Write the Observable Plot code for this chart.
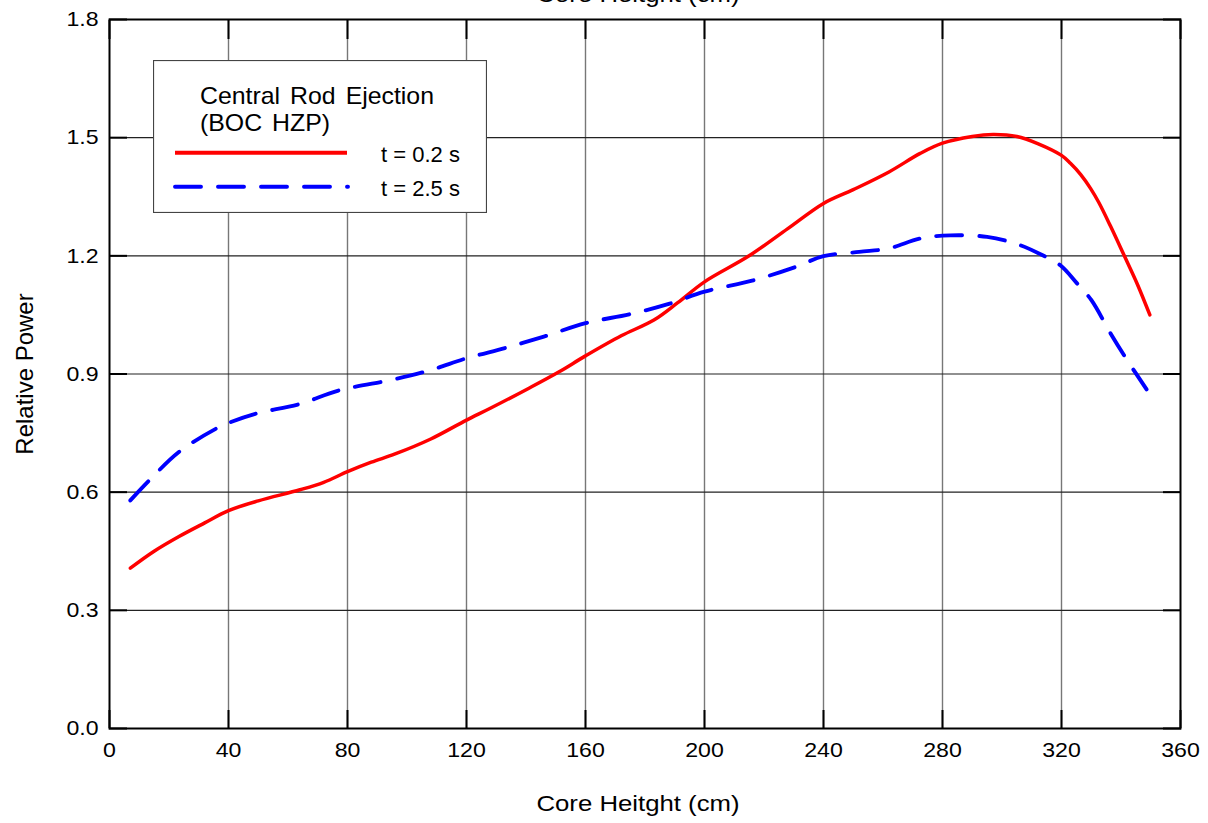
<!DOCTYPE html>
<html>
<head>
<meta charset="utf-8">
<script src="https://cdn.jsdelivr.net/npm/d3@7"></script>
<script src="https://cdn.jsdelivr.net/npm/@observablehq/plot@0.6"></script>
<style>
  html, body { margin: 0; padding: 0; background: #fff; }
  #wrap { position: relative; width: 1208px; height: 823px; overflow: hidden; font-family: "Liberation Sans", Arial, sans-serif; }
  #legend { position: absolute; left: 153px; top: 60px; }
</style>
</head>
<body>
<div id="wrap"><div id="chart"></div><div id="legend"></div></div>
<script>
// ---- data ----
const xTicks = [0, 40, 80, 120, 160, 200, 240, 280, 320, 360];
const yTicks = [0.0, 0.3, 0.6, 0.9, 1.2, 1.5, 1.8];
const xTitle = "Core Heitght (cm)";
const yTitle = "Relative Power";
const legendTitle = ["Central Rod Ejection", "(BOC HZP)"];
const seriesNames = ["t = 0.2 s", "t = 2.5 s"];

const heightT02 = [7, 15, 23.5, 32, 40, 50, 64, 72, 80, 88, 96, 108, 120, 128, 141, 151, 160, 172, 183, 191, 200, 215, 228, 240, 250, 262, 272.5, 280, 290, 297, 305, 312, 320, 323, 326.4, 329.7, 332.5, 336.5, 341, 345.5, 349.7];
const powerT02  = [0.407, 0.45, 0.488, 0.522, 0.553, 0.578, 0.606, 0.625, 0.652, 0.676, 0.697, 0.735, 0.783, 0.813, 0.864, 0.905, 0.946, 0.997, 1.037, 1.081, 1.134, 1.2, 1.269, 1.333, 1.368, 1.413, 1.46, 1.486, 1.503, 1.508, 1.503, 1.485, 1.455, 1.435, 1.407, 1.372, 1.336, 1.275, 1.202, 1.128, 1.05];

const heightT25 = [7, 13.5, 23.5, 36, 40.4, 49, 64, 77, 96, 108, 120, 133.5, 146, 160, 175, 188, 200, 216, 230, 240, 252, 262, 272.5, 282.6, 295, 305, 313.5, 319.6, 325, 330, 336.5, 342, 348.6];
const powerT25  = [0.579, 0.631, 0.703, 0.762, 0.777, 0.799, 0.824, 0.858, 0.887, 0.91, 0.94, 0.967, 0.995, 1.029, 1.052, 1.078, 1.109, 1.137, 1.17, 1.199, 1.21, 1.219, 1.244, 1.252, 1.248, 1.23, 1.202, 1.176, 1.132, 1.088, 1.003, 0.936, 0.861];

const colors = ["#ff0000", "#0000ff"];
const dashes = [null, "26,17"];

const t02 = heightT02.map((h, i) => ({h, p: powerT02[i]}));
const t25 = heightT25.map((h, i) => ({h, p: powerT25[i]}));

const font = "'Liberation Sans', Arial, sans-serif";

const chart = Plot.plot({
  width: 1208,
  height: 823,
  marginLeft: 109,
  marginRight: 28,
  marginTop: 19,
  marginBottom: 95,
  style: {fontFamily: font, fontSize: "21px", background: "white", color: "black", overflow: "visible"},
  x: {domain: [0, 360], ticks: xTicks, label: null},
  y: {domain: [0, 1.8], ticks: yTicks, label: null},
  marks: [
    Plot.gridX(xTicks.slice(1, -1), {stroke: "#777", strokeOpacity: 1, strokeWidth: 1.4}),
    Plot.gridY(yTicks.slice(1, -1), {stroke: "#222", strokeOpacity: 1, strokeWidth: 1.2}),
    Plot.axisX(xTicks, {anchor: "bottom", tickSize: -18, fill: "none", stroke: "black", strokeWidth: 2, label: null}),
    Plot.axisX(xTicks, {anchor: "top", tickSize: -19, fill: "none", stroke: "black", strokeWidth: 2, label: null}),
    Plot.axisY(yTicks, {anchor: "left", tickSize: -18, fill: "none", stroke: "black", strokeWidth: 2, label: null}),
    Plot.axisY(yTicks, {anchor: "right", tickSize: -18, fill: "none", stroke: "black", strokeWidth: 2, label: null}),
    Plot.axisX(xTicks, {anchor: "bottom", tickSize: 0, tickPadding: 14, label: null, fontSize: 21}),
    Plot.axisY(yTicks, {anchor: "left", tickSize: 0, tickPadding: 11, tickFormat: d3.format(".1f"), label: null, fontSize: 21}),
    Plot.line(t02, {x: "h", y: "p", stroke: colors[0], strokeWidth: 3.5, curve: "catmull-rom", strokeLinecap: "round"}),
    Plot.line(t25, {x: "h", y: "p", stroke: colors[1], strokeWidth: 3.9, curve: "catmull-rom", strokeDasharray: dashes[1], strokeLinecap: "round"}),
    Plot.frame({stroke: "black", strokeWidth: 2}),
    Plot.text([xTitle], {frameAnchor: "bottom", dy: 82, dx: -7, lineAnchor: "bottom", fontSize: 22}),
    Plot.text([xTitle], {frameAnchor: "top", dy: -18, dx: -7, lineAnchor: "bottom", fontSize: 22}),
    Plot.text([yTitle], {frameAnchor: "left", dx: -77, rotate: -90, textAnchor: "middle", lineAnchor: "bottom", fontSize: 24})
  ]
});
document.getElementById("chart").appendChild(chart);

// horizontal widening of the (unrotated) text to match the reference's glyph proportions
chart.querySelectorAll("text").forEach(t => {
  if (t.textContent === yTitle) return;
  const w = t.getComputedTextLength();
  if (w <= 0) return;
  const s = t.textContent === xTitle ? 1.17 : 1.1;
  t.setAttribute("textLength", (w * s).toFixed(1));
  t.setAttribute("lengthAdjust", "spacingAndGlyphs");
});

// ---- legend ----
const LW = 334, LH = 153;
const lg = d3.select("#legend").append("svg")
  .attr("width", LW).attr("height", LH)
  .style("font-family", font);
lg.append("rect").attr("x", 0.5).attr("y", 0.5).attr("width", LW - 1).attr("height", LH - 1)
  .attr("fill", "white").attr("stroke", "#444").attr("stroke-width", 1.2);
const titles = lg.selectAll("text.title").data(legendTitle).join("text")
  .attr("class", "title")
  .attr("x", 47).attr("y", (d, i) => 44 + i * 27)
  .attr("font-size", 24).style("word-spacing", "3px").text(d => d);
titles.each(function() {
  const w = this.getComputedTextLength();
  this.setAttribute("textLength", (w * 1.035).toFixed(1));
  this.setAttribute("lengthAdjust", "spacingAndGlyphs");
});
const items = lg.selectAll("g.item").data(seriesNames).join("g")
  .attr("class", "item")
  .attr("transform", (d, i) => `translate(0,${92.7 + i * 34})`);
items.append("line")
  .attr("x1", 22).attr("x2", (d, i) => i === 1 ? 195 : 194)
  .attr("y1", 0).attr("y2", 0)
  .attr("stroke", (d, i) => colors[i])
  .attr("stroke-width", 3.9)
  .attr("stroke-linecap", (d, i) => i === 1 ? "round" : "butt")
  .attr("stroke-dasharray", (d, i) => dashes[i]);
items.append("text")
  .attr("x", 228).attr("y", 9)
  .attr("font-size", 22).text(d => d);
</script>
</body>
</html>
